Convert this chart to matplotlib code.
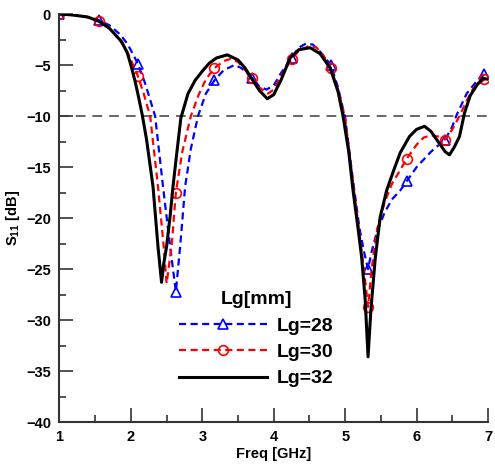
import numpy as np
import matplotlib.pyplot as plt

plt.rcParams['font.family'] = ['Liberation Sans', 'DejaVu Sans']
plt.rcParams['font.weight'] = 'bold'
plt.rcParams['mathtext.fontset'] = 'custom'
plt.rcParams['mathtext.rm'] = 'Liberation Sans:bold'
plt.rcParams['mathtext.bf'] = 'Liberation Sans:bold'

# values
freq_32 = [1.0, 1.2, 1.4, 1.55, 1.7, 1.87, 1.95, 2.0, 2.06, 2.11, 2.16, 2.22, 2.31,
           2.38, 2.43, 2.46, 2.50, 2.55, 2.59, 2.65, 2.70, 2.80, 2.90, 3.0, 3.1, 3.2,
           3.35, 3.5, 3.6, 3.67, 3.8, 3.91, 4.0, 4.1, 4.23, 4.35, 4.51, 4.65, 4.79,
           4.9, 4.97, 5.05, 5.11, 5.18, 5.23, 5.28, 5.32, 5.36, 5.42, 5.49, 5.58,
           5.68, 5.77, 5.9, 6.0, 6.11, 6.2, 6.32, 6.40, 6.46, 6.53, 6.60, 6.67, 6.75,
           6.85, 6.93, 7.0]
s11_32 = [0.0, -0.1, -0.3, -0.7, -1.4, -2.7, -3.8, -5.0, -6.6, -8.2, -9.9, -12.3, -16.9,
          -22.8, -26.3, -24.5, -22.8, -19.8, -16.9, -13.2, -10.2, -7.8, -6.5, -5.6, -4.8, -4.3,
          -4.0, -4.5, -5.3, -6.1, -7.5, -8.3, -7.9, -6.5, -4.3, -3.5, -3.3, -3.9, -5.3,
          -7.6, -10.0, -13.5, -17.3, -21.0, -23.8, -28.0, -33.6, -29.0, -24.0, -19.9, -17.3,
          -15.3, -13.6, -12.0, -11.3, -11.0, -11.5, -12.7, -13.5, -13.8, -13.0, -12.0, -9.7, -8.0,
          -6.9, -6.3, -6.4]

freq_30 = [1.0, 1.2, 1.4, 1.55, 1.7, 1.85, 1.95, 2.02, 2.1, 2.18, 2.27, 2.38, 2.46,
           2.50, 2.57, 2.63, 2.72, 2.84, 2.95, 3.05, 3.17, 3.3, 3.4, 3.5, 3.6, 3.7,
           3.8, 3.92, 4.0, 4.1, 4.25, 4.35, 4.5, 4.6, 4.7, 4.8, 4.9, 5.0, 5.1, 5.2,
           5.27, 5.32, 5.37, 5.45, 5.55, 5.65, 5.76, 5.86, 6.0, 6.1, 6.2, 6.3, 6.4,
           6.5, 6.6, 6.7, 6.8, 6.95, 7.0]
s11_30 = [0.0, -0.1, -0.3, -0.7, -1.3, -2.6, -3.7, -4.8, -6.1, -7.8, -10.0, -16.9, -22.8,
          -26.4, -22.8, -17.5, -13.5, -10.0, -7.9, -6.4, -5.3, -4.6, -4.4, -4.7, -5.5, -6.3,
          -7.2, -7.8, -7.4, -6.1, -4.4, -3.6, -3.1, -3.3, -4.1, -5.3, -7.4, -10.2, -16.0, -21.5,
          -25.5, -28.7, -25.0, -21.0, -18.5, -16.7, -15.4, -14.2, -12.8, -12.1, -11.9, -12.0, -12.3,
          -11.3, -10.0, -8.5, -7.2, -6.4, -6.3]

freq_28 = [1.0, 1.2, 1.4, 1.55, 1.7, 1.85, 1.95, 2.02, 2.1, 2.2, 2.34, 2.45, 2.55,
           2.63, 2.69, 2.76, 2.84, 2.94, 3.05, 3.17, 3.3, 3.45, 3.55, 3.7, 3.8, 3.9,
           4.0, 4.1, 4.25, 4.35, 4.45, 4.55, 4.65, 4.8, 4.9, 5.0, 5.1, 5.2, 5.27, 5.32,
           5.37, 5.45, 5.55, 5.65, 5.77, 5.86, 6.0, 6.2, 6.4, 6.5, 6.56, 6.7, 6.85,
           6.95, 7.0]
s11_28 = [0.0, -0.1, -0.3, -0.6, -1.1, -2.0, -2.9, -3.8, -4.9, -6.8, -10.0, -16.9, -22.8,
          -27.2, -22.8, -16.9, -13.2, -10.0, -7.8, -6.5, -5.5, -5.0, -5.3, -6.3, -7.1, -7.4,
          -7.0, -5.8, -4.3, -3.3, -2.9, -3.0, -3.7, -5.0, -7.2, -10.2, -15.8, -21.0, -23.5, -25.0,
          -23.3, -21.2, -19.5, -18.2, -17.3, -16.4, -15.0, -13.5, -12.3, -11.0, -9.9, -7.8, -6.5,
          -5.9, -5.9]

mark_28 = [1.0, 1.55, 2.1, 2.63, 3.17, 3.7, 4.25, 4.8, 5.32, 5.86, 6.4, 6.95]
mark_30 = [1.0, 1.55, 2.1, 2.63, 3.17, 3.7, 4.25, 4.8, 5.32, 5.86, 6.4, 6.95]

xticks = [1, 2, 3, 4, 5, 6, 7]
yticks = [0, -5, -10, -15, -20, -25, -30, -35, -40]


def mark_idx(freqs, marks):
    return [freqs.index(f) for f in marks]


fig = plt.figure(figsize=(4.95, 4.68), dpi=100)
ax = fig.add_axes([0.120, 0.098, 0.866, 0.872])

ax.axhline(-10, color='#666666', lw=1.4, dashes=(5, 3.6), zorder=1)

ax.plot(freq_28, s11_28, color='blue', lw=1.6, dashes=(3.2, 2.0),
        marker='^', ms=7, mfc='none', mec='blue', mew=1.2,
        markevery=mark_idx(freq_28, mark_28), label='Lg=28')
ax.plot(freq_30, s11_30, color='red', lw=1.6, dashes=(3.2, 2.0),
        marker='o', ms=7, mfc='none', mec='red', mew=1.2,
        markevery=mark_idx(freq_30, mark_30), label='Lg=30')
ax.plot(freq_32, s11_32, color='black', lw=2.2, label='Lg=32')

ax.set_xlim(1, 7)
ax.set_ylim(-40, 0)
ax.set_xticks(xticks)
ax.set_yticks(yticks)
ax.set_xticks(np.arange(1.5, 7, 1), minor=True)
ax.set_yticks(np.arange(-37.5, 0, 5), minor=True)
ax.tick_params(which='major', direction='in', length=10, width=1.2, color='#333333',
               labelsize=10.5, pad=6)
ax.tick_params(which='minor', direction='in', length=5, width=1.2, color='#333333')
for lab in ax.get_xticklabels() + ax.get_yticklabels():
    lab.set_fontweight('bold')

for side in ['top', 'right']:
    ax.spines[side].set_visible(False)
for side in ['left', 'bottom']:
    ax.spines[side].set_linewidth(1.5)
    ax.spines[side].set_color('#333333')

ax.set_xlabel('Freq [GHz]', fontsize=10.5, fontweight='bold', labelpad=2)
ax.set_ylabel(r'S$_{\mathbf{11}}$ [dB]', fontsize=10.5, fontweight='bold', labelpad=3)

leg = ax.legend(loc='center', bbox_to_anchor=(0.459, 0.203), frameon=False,
                title='Lg[mm]', handlelength=4.5, fontsize=14, handletextpad=0.5,
                labelspacing=0.45, title_fontproperties={'weight': 'bold', 'size': 14})
for t in leg.get_texts():
    t.set_fontweight('bold')

fig.savefig('out.png', dpi=100)
